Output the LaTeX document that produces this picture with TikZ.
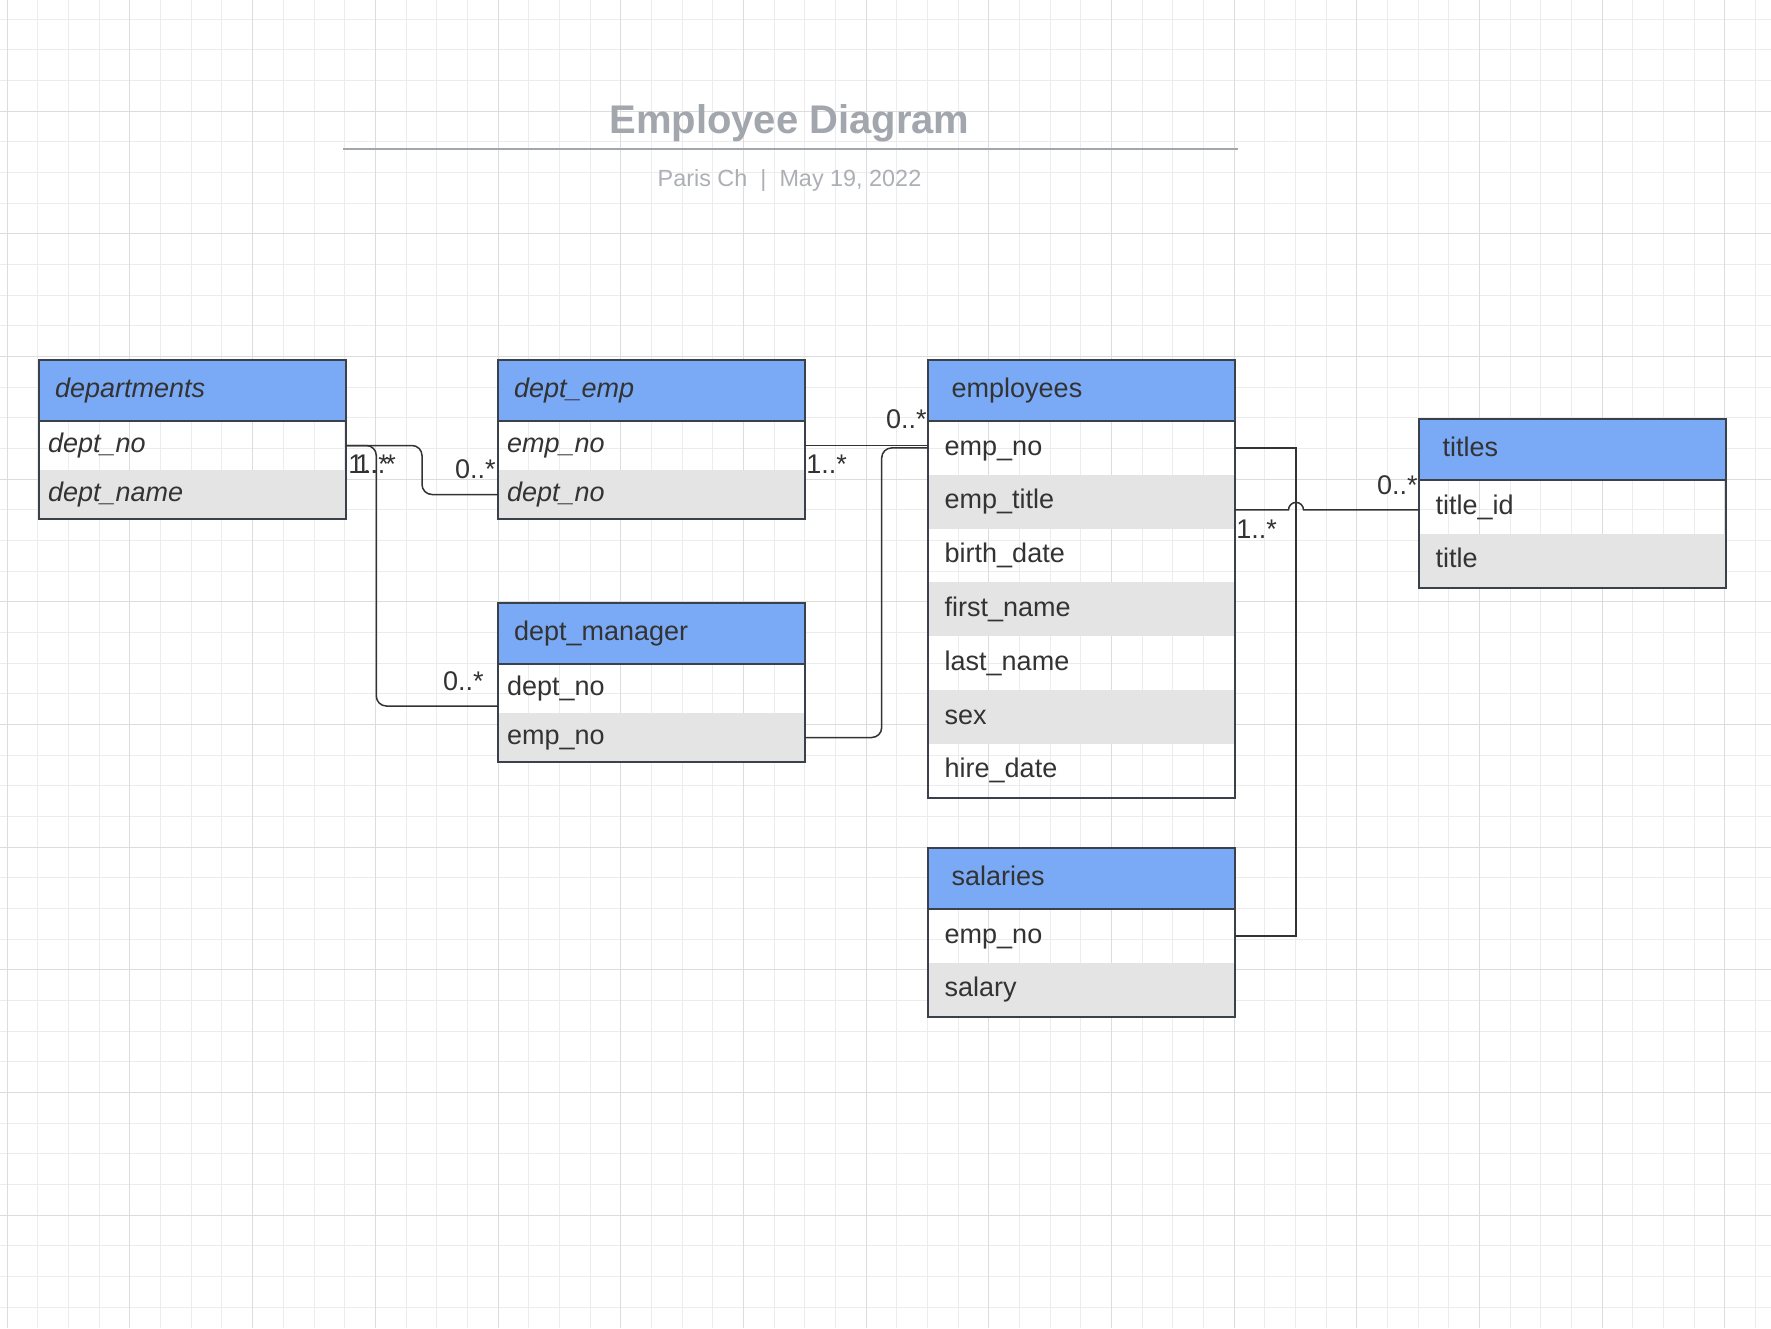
\documentclass[tikz,border=0pt]{standalone}
\usepackage{fontspec}
\setmainfont{Liberation Sans}
\definecolor{hdrblue}{RGB}{122,170,245}
\definecolor{rowgray}{RGB}{228,228,228}
\definecolor{tline}{RGB}{58,65,75}
\definecolor{textcol}{RGB}{51,51,51}
\definecolor{connline}{RGB}{51,51,51}
\definecolor{titlegray}{RGB}{162,166,173}
\definecolor{subgray}{RGB}{172,175,180}
\definecolor{gridminor}{RGB}{236,236,236}
\definecolor{gridmajor}{RGB}{220,220,220}
\newcommand\tblfont{\fontsize{13.5}{16}\selectfont}
\tikzset{
  tbl/.style={rectangle, anchor=north west, outer sep=0pt, inner ysep=0pt, align=left,
    text=textcol, font=\tblfont, text height=9.9pt, text depth=2.8pt},
  shdr/.style={tbl, draw=tline, line width=1pt, fill=hdrblue, minimum height=30.5pt,
    inner xsep=8pt, text width=137.5pt},
  srow/.style={tbl, minimum height=24.5pt, inner xsep=4.5pt, text width=144.5pt},
  bhdr/.style={tbl, draw=tline, line width=1pt, fill=hdrblue, minimum height=30.5pt,
    inner xsep=12pt, text width=129.5pt},
  brow/.style={tbl, minimum height=26.9pt, inner xsep=8.5pt, text width=136.5pt},
  alt/.style={fill=rowgray},
  tframe/.style={draw=tline, line width=1pt},
  conn/.style={draw=connline, line width=0.75pt},
  card/.style={text=textcol, font=\tblfont, inner sep=0pt},
  gmin/.style={draw=gridminor, line width=0.5pt},
  gmaj/.style={draw=gridmajor, line width=0.5pt}
}
\begin{document}
\begin{tikzpicture}[x=0.5pt,y=-0.5pt]
\useasboundingbox (0,0) rectangle (1771,1328);
\fill[white] (0,0) rectangle (1771,1328);
\foreach \i in {0,...,57} \draw[gmin] ({7.3+30.67*\i},0) -- ({7.3+30.67*\i},1328);
\foreach \j in {0,...,42} \draw[gmin] (0,{19+30.67*\j}) -- (1771,{19+30.67*\j});
\foreach \i in {0,4,...,56} \draw[gmaj] ({7.3+30.67*\i},0) -- ({7.3+30.67*\i},1328);
\foreach \j in {3,7,...,39} \draw[gmaj] (0,{19+30.67*\j}) -- (1771,{19+30.67*\j});

\node[font=\fontsize{20}{24}\selectfont\bfseries, text=titlegray, anchor=base] (title) at (789.5,133) {Employee Diagram};
\draw[titlegray, line width=1.35pt] (343,149) -- (1238,149);
\node[font=\fontsize{11.7}{14}\selectfont, text=subgray, anchor=base] (byline) at (789.5,186) {Paris Ch\ \ |\ \ May 19, 2022};

\node[srow] (dep-no) at (39,421) {\textit{dept\_no}};
\node[srow, alt] (dep-name) at (39,470) {\textit{dept\_name}};
\node[shdr] (dep) at (39,360) {\textit{departments}};
\draw[tframe] (dep.north west) rectangle (dep-name.south east);

\node[srow] (demp-eno) at (498,421) {\textit{emp\_no}};
\node[srow, alt] (demp-dno) at (498,470) {\textit{dept\_no}};
\node[shdr] (demp) at (498,360) {\textit{dept\_emp}};
\draw[tframe] (demp.north west) rectangle (demp-dno.south east);

\node[srow] (dm-dno) at (498,664) {dept\_no};
\node[srow, alt] (dm-eno) at (498,713) {emp\_no};
\node[shdr] (dm) at (498,603) {dept\_manager};
\draw[tframe] (dm.north west) rectangle (dm-eno.south east);

\node[brow] (emp-eno) at (927.7,421) {emp\_no};
\node[brow, alt] (emp-title) at (927.7,474.8) {emp\_title};
\node[brow] (emp-birth) at (927.7,528.6) {birth\_date};
\node[brow, alt] (emp-first) at (927.7,582.4) {first\_name};
\node[brow] (emp-last) at (927.7,636.2) {last\_name};
\node[brow, alt] (emp-sex) at (927.7,690) {sex};
\node[brow] (emp-hire) at (927.7,743.8) {hire\_date};
\node[bhdr] (emp) at (927.7,360) {employees};
\draw[tframe] (emp.north west) rectangle (emp-hire.south east);

\node[brow] (ttl-id) at (1418.6,480) {title\_id};
\node[brow, alt] (ttl-title) at (1418.6,533.8) {title};
\node[bhdr] (ttl) at (1418.6,419) {titles};
\draw[tframe] (ttl.north west) rectangle (ttl-title.south east);

\node[brow] (sal-eno) at (927.7,909) {emp\_no};
\node[brow, alt] (sal-sal) at (927.7,962.8) {salary};
\node[bhdr] (sal) at (927.7,848) {salaries};
\draw[tframe] (sal.north west) rectangle (sal-sal.south east);

\draw[conn, rounded corners=5pt] (dep-no.east) -- ++(76,0) |- (demp-dno.west);
\draw[conn, rounded corners=5pt] (dep-no.east) -- ++(30.3,0) |- ([yshift=-8.75pt]dm-dno.west);
\draw[conn] (demp-eno.east) -- (demp-eno.east -| emp-eno.west);
\draw[conn, rounded corners=5pt] (dm-eno.east) -- ++(76.7,0) |- (emp-eno.west);
\coordinate (jog) at ([xshift=30.65pt]emp-eno.east);
\draw[conn] (emp-eno.east) -- (jog) |- (sal-eno.east);
\coordinate (tid) at ([yshift=-1.5pt]ttl-id.west);
\coordinate (hop) at (jog |- tid);
\draw[conn] (emp-title.east |- tid) -- ([xshift=-3.75pt]hop) arc[start angle=180, end angle=0, radius=3.75pt] -- (tid);

\node[card, anchor=base west] (m1) at (348,473) {1..*};
\node[card, anchor=base west] (m2) at (355,473) {1..*};
\node[card, anchor=base east] (m3) at (496,478) {0..*};
\node[card, anchor=base east] (m4) at (484,690) {0..*};
\node[card, anchor=base west] (m5) at (806,473) {1..*};
\node[card, anchor=base east] (m6) at (927,428) {0..*};
\node[card, anchor=base west] (m7) at (1236,538) {1..*};
\node[card, anchor=base east] (m8) at (1418,494) {0..*};
\end{tikzpicture}
\end{document}
